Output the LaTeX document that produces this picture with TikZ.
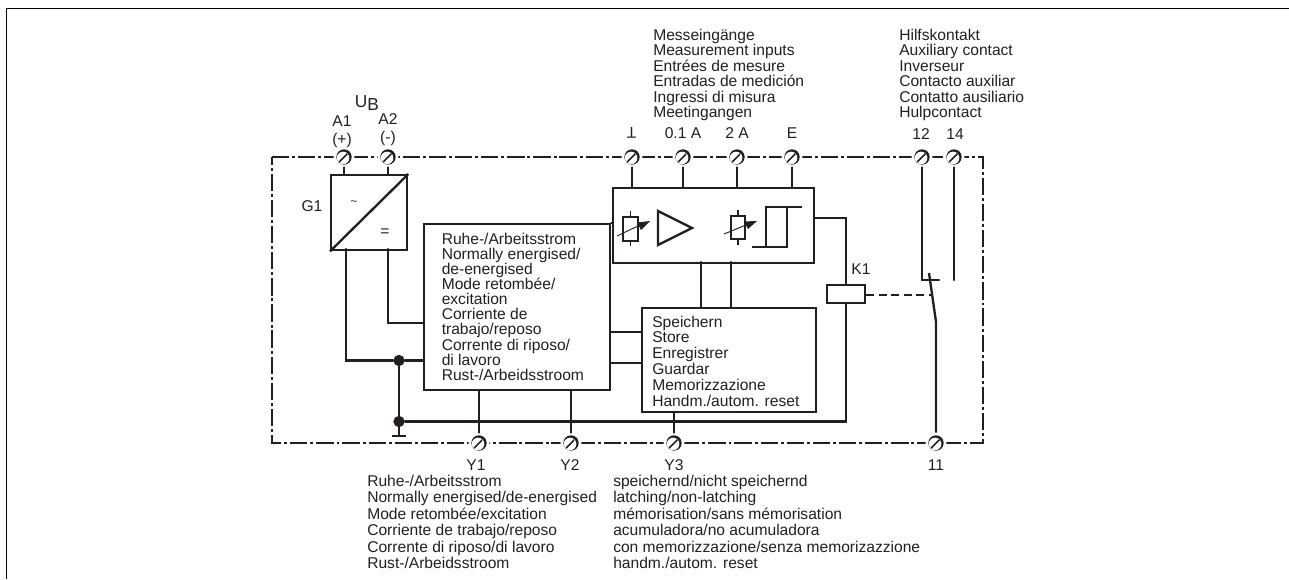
\documentclass[tikz,border=0pt]{standalone}
\usepackage{fontspec}
\setmainfont{Liberation Sans}
\usetikzlibrary{calc}
\definecolor{ink}{HTML}{231F20}
\tikzset{
  x=0.75pt,y=-0.75pt,
  wire/.style={draw=ink,line width=1.75pt,line cap=round,line join=miter},
  thin wire/.style={draw=ink,line width=1.1pt},
  boxs/.style={draw=ink,line width=1.75pt,inner sep=0pt},
  frame/.style={draw=ink,line width=0.95pt,dash pattern=on 13pt off 2.2pt on 2.2pt off 2.2pt},
  label/.style={inner sep=0pt,font=\fontsize{11.7pt}{12pt}\selectfont,text=ink},
  list/.style={inner sep=0pt,text=ink,align=left,anchor=north west,font=\fontsize{11.7pt}{11.55pt}\selectfont},
  term/.style={circle,draw=white,line width=1.6pt,fill=white,minimum size=14pt,inner sep=0pt,
    path picture={
      \fill[ink] (path picture bounding box.center) circle (5.8pt);
      \fill[white] ($(path picture bounding box.center)+(-0.7pt,-0.7pt)$) circle (4.7pt);
      \begin{scope}
        \clip ($(path picture bounding box.center)+(-0.7pt,-0.7pt)$) circle (4.4pt);
        \foreach \d in {-2.6,0,2.6}{
          \draw[ink,line width=0.8pt] ($(path picture bounding box.center)+(\d pt-6pt,\d pt-6pt)$) -- ++(12pt,12pt) ;
        }
      \end{scope}
    }},
  dotn/.style={circle,fill=ink,minimum size=8.5pt,inner sep=0pt},
}
\begin{document}
\begin{tikzpicture}
\useasboundingbox (0,0) rectangle (1289,579);
% outer sheet lines
\coordinate (sheetTL) at (6.5,8.5);
\coordinate (sheetTR) at (1289,8.5);
\coordinate (sheetBL) at (6.5,579);
\draw[black,line width=0.9pt] (sheetBL) -- (sheetTL) -- (sheetTR);
% device outline
\coordinate (fTL) at (272,157);
\coordinate (fTR) at (983,157);
\coordinate (fBR) at (983,443);
\coordinate (fBL) at (272,443);
\draw[frame] (fTL) -- (fTR) -- (fBR) -- (fBL) -- cycle;
% terminals
\node[term] (A1) at (344,157) {};
\node[term] (A2) at (388,157) {};
\node[term] (Tg) at (632,157) {};
\node[term] (T01) at (683,157) {};
\node[term] (T2) at (737,157) {};
\node[term] (TE) at (792,157) {};
\node[term] (T12) at (922,157) {};
\node[term] (T14) at (954,157) {};
\node[term] (Y1) at (479,443) {};
\node[term] (Y2) at (571,443) {};
\node[term] (Y3) at (674,443) {};
\node[term] (T11) at (936,443) {};
% boxes
\node[boxs,minimum width=57pt,minimum height=56.25pt,anchor=north west] (G1) at (330,174) {};
\draw[wire,line cap=butt] (G1.south west) -- (G1.north east);
\node[label,font=\fontsize{9pt}{9pt}\selectfont] (tilde) at (354,203) {\textasciitilde};
\node[label] (eq) at (385,233) {=};
\node[boxs,minimum width=139.5pt,minimum height=124.5pt,anchor=north west] (Main) at (423,223) {};
\node[boxs,minimum width=150.75pt,minimum height=56.25pt,anchor=north west] (Amp) at (612,187) {};
\node[boxs,minimum width=130.5pt,minimum height=78pt,anchor=north west] (Store) at (641,307) {};
\node[boxs,minimum width=28.5pt,minimum height=13.5pt,anchor=north west] (K1) at (826,284) {};
% top terminal leads
\draw[wire] (A1.south) -- (A1.south |- G1.north);
\draw[wire] (A2.south) -- (A2.south |- G1.north);
\draw[wire] (Tg.south) -- (Tg.south |- Amp.north);
\draw[wire] (T01.south) -- (T01.south |- Amp.north);
\draw[wire] (T2.south) -- (T2.south |- Amp.north);
\draw[wire] (TE.south) -- (TE.south |- Amp.north);
% junctions
\node[dotn] (J1) at (399,360.5) {};
\node[dotn] (J2) at (399,421.5) {};
\coordinate (gnd) at (399,436);
\draw[wire] (J1) -- (J2) -- (gnd);
\draw[wire,line cap=butt] ($(gnd)+(-7,0)$) -- ($(gnd)+(7,0)$);
% G1 outputs
\draw[wire] (346,249) |- (J1);
\draw[wire] (J1) -- (J1 -| Main.west);
\draw[wire] (388,249) |- (Main.west |- 0,323);
% bottom bus
\draw[wire] (J2) -| (K1.south);
\draw[wire] (Amp.east |- 0,218) -| (K1.north);
% main box links
\draw[wire] (Main.north east) -- (Amp.west |- Main.north);
\draw[wire] (Main.east |- 0,332) -- (Store.west |- 0,332);
\draw[wire] (Main.east |- 0,363) -- (Store.west |- 0,363);
\draw[wire] (Y1.north |- Main.south) -- (Y1.north);
\draw[wire] (Y2.north |- Main.south) -- (Y2.north);
\draw[wire] (Y3.north |- Store.south) -- (Y3.north);
\draw[wire] (701,262) -- (701,307);
\draw[wire] (731,262) -- (731,307);
% contact
\coordinate (c12) at (922,280);
\coordinate (c14) at (954,280);
\coordinate (bladeTop) at (929,273);
\coordinate (bladeLow) at (936,322);
\draw[wire] (T12.south) -- (c12) -- (939,280);
\draw[wire] (T14.south) -- (c14);
\draw[wire,line cap=butt] (bladeTop) -- (bladeLow) -- (T11.north);
\draw[ink,line width=0.95pt,dash pattern=on 6pt off 3.4pt] (K1.east |- 0,295) -- (932,295);
% amplifier symbols
\draw[thin wire] (623,217) rectangle (638,241);
\draw[thin wire] (630.5,211) -- (630.5,217) (630.5,241) -- (630.5,246);
\draw[ink,line width=0.7pt] (617,236) -- (640,225);
\fill[ink] (650,221) -- (637,222.5) -- (641,230) -- cycle;
\draw[wire,line cap=butt] (658,211) -- (658,245) -- (692,228) -- cycle;
\draw[thin wire] (731,216) rectangle (745,239);
\draw[thin wire] (738,210) -- (738,216) (738,239) -- (738,245);
\draw[ink,line width=0.7pt] (724,234) -- (746,225);
\fill[ink] (757,221) -- (744,221.5) -- (748,229) -- cycle;
\draw[wire,line cap=butt] (752,247) -- (787,247) -- (787,207);
\draw[wire,line cap=butt] (766,247) -- (766,207) -- (802,207);
% labels
\node[label,anchor=center] at (631.5,133) {\rotatebox{180}{T}};
\node[label] (l01) at (683,133.5) {0.1 A};
\node[label] (l2) at (737,133.5) {2 A};
\node[label] (lE) at (792,133.5) {E};
\node[label] (l12) at (921,134) {12};
\node[label] (l14) at (955,134) {14};
\node[label] (lA1) at (342,121) {A1};
\node[label] (lp) at (342,140) {(+)};
\node[label] (lA2) at (388,119) {A2};
\node[label] (lm) at (388,138) {(-)};
\node[label,font=\fontsize{13pt}{14pt}\selectfont] (lU) at (367,103) {U\raisebox{-2.8pt}{B}};
\node[label] (lG1) at (312,206) {G1};
\node[label] (lK1) at (861,269) {K1};
\node[label] (lY1) at (476,465) {Y1};
\node[label] (lY2) at (570,465) {Y2};
\node[label] (lY3) at (674,465) {Y3};
\node[label] (l11) at (936,465) {11};
\node[list] (topA) at (653,29) {Messeingänge\\Measurement inputs\\Entrées de mesure\\Entradas de medición\\Ingressi di misura\\Meetingangen};
\node[list] (topB) at (899,29) {Hilfskontakt\\Auxiliary contact\\Inverseur\\Contacto auxiliar\\Contatto ausiliario\\Hulpcontact};
\node[list,font=\fontsize{11.7pt}{11.3pt}\selectfont] (mainT) at (441.5,233) {Ruhe-/Arbeitsstrom\\Normally energised/\\de-energised\\Mode retombée/\\excitation\\Corriente de\\trabajo/reposo\\Corrente di riposo/\\di lavoro\\Rust-/Arbeidsstroom};
\node[list,font=\fontsize{11.7pt}{11.85pt}\selectfont] (storeT) at (652,315.5) {Speichern\\Store\\Enregistrer\\Guardar\\Memorizzazione\\Handm./autom. reset};
\node[list,font=\fontsize{11.7pt}{12.3pt}\selectfont] (botA) at (367,475) {Ruhe-/Arbeitsstrom\\Normally energised/de-energised\\Mode retombée/excitation\\Corriente de trabajo/reposo\\Corrente di riposo/di lavoro\\Rust-/Arbeidsstroom};
\node[list,font=\fontsize{11.7pt}{12.3pt}\selectfont] (botB) at (613,475) {speichernd/nicht speichernd\\latching/non-latching\\mémorisation/sans mémorisation\\acumuladora/no acumuladora\\con memorizzazione/senza memorizazzione\\handm./autom. reset};
\end{tikzpicture}
\end{document}
